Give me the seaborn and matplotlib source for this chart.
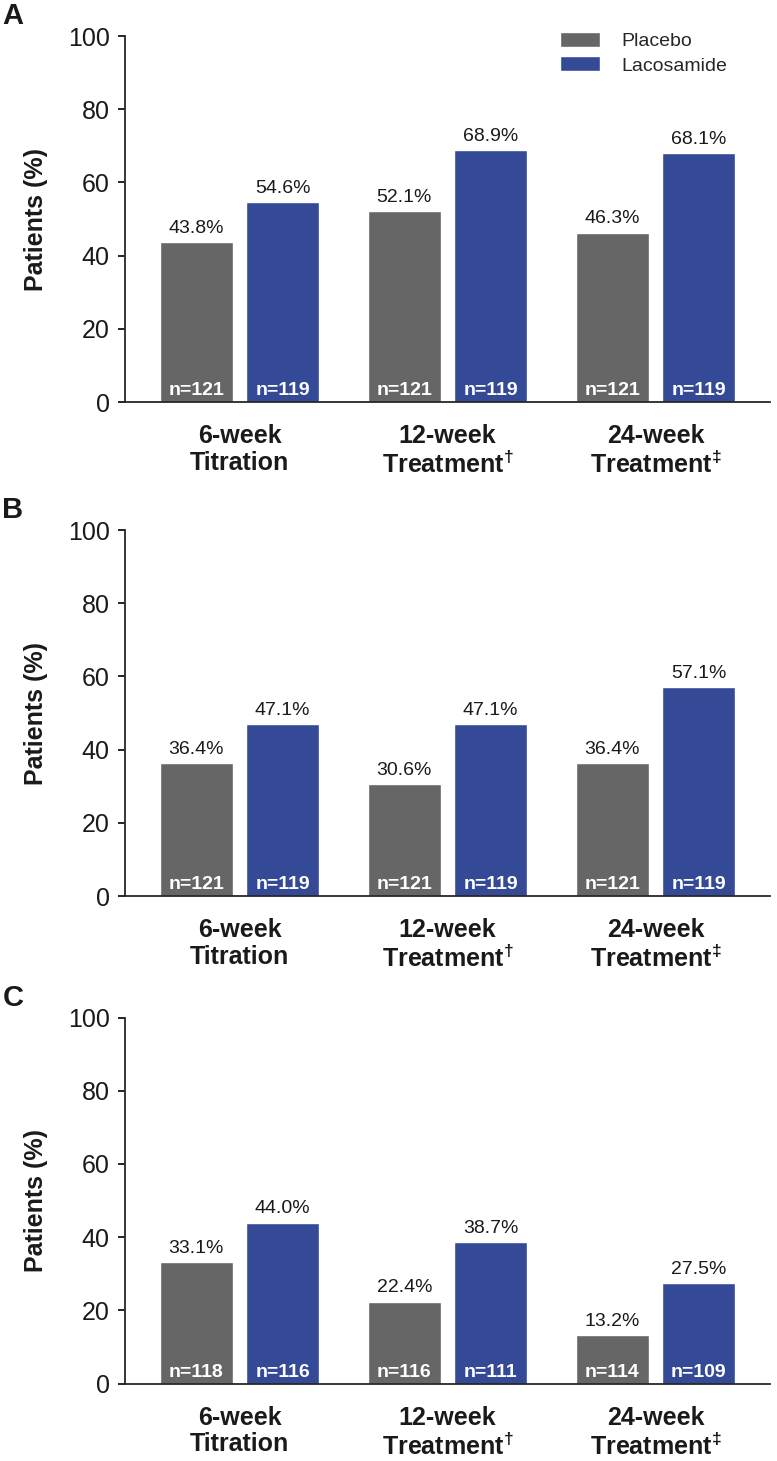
import pandas as pd
import matplotlib.pyplot as plt
import seaborn as sns

# data
periods = ['6-week\nTitration', '12-week\nTreatment$^{†}$', '24-week\nTreatment$^{‡}$']
groups = ['Placebo', 'Lacosamide']
panels = ['A', 'B', 'C']

placebo_pct = [[43.8, 52.1, 46.3], [36.4, 30.6, 36.4], [33.1, 22.4, 13.2]]
lacosamide_pct = [[54.6, 68.9, 68.1], [47.1, 47.1, 57.1], [44.0, 38.7, 27.5]]
placebo_n = [[121, 121, 121], [121, 121, 121], [118, 116, 114]]
lacosamide_n = [[119, 119, 119], [119, 119, 119], [116, 111, 109]]

colors = {'Placebo': '#666666', 'Lacosamide': '#344A97'}

sns.set_style('ticks')
plt.rcParams['font.family'] = ['Liberation Sans', 'DejaVu Sans']
plt.rcParams['mathtext.fontset'] = 'custom'
plt.rcParams['mathtext.rm'] = 'Liberation Sans'
plt.rcParams['mathtext.bf'] = 'Liberation Sans:bold'
plt.rcParams['mathtext.it'] = 'Liberation Sans:italic'
plt.rcParams['mathtext.default'] = 'bf'

fig = plt.figure(figsize=(7.77, 14.61), dpi=100)
bottoms = [0.7248, 0.3867, 0.0530]
height = 0.2505

for i, p in enumerate(panels):
    rows = []
    for j, per in enumerate(periods):
        rows.append({'period': per, 'group': 'Placebo', 'pct': placebo_pct[i][j], 'n': placebo_n[i][j]})
        rows.append({'period': per, 'group': 'Lacosamide', 'pct': lacosamide_pct[i][j], 'n': lacosamide_n[i][j]})
    df = pd.DataFrame(rows)

    ax = fig.add_axes([0.161, bottoms[i], 0.83, height])
    sns.barplot(data=df, x='period', y='pct', hue='group', hue_order=groups, order=periods,
                palette=colors, width=0.83, gap=0.16, saturation=1, ax=ax, legend=(i == 0))

    # percent above bars, n inside at the bottom
    for g, cont in zip(groups, ax.containers):
        sub = df[df['group'] == g]
        for bar, val, n in zip(cont, sub['pct'], sub['n']):
            cx = bar.get_x() + bar.get_width() / 2
            ax.text(cx, val + 1.4, f'{val:.1f}%', ha='center', va='bottom', fontsize=14, color='#1a1a1a')
            ax.text(cx, 1.9, f'n={n}', ha='center', va='baseline', fontsize=14,
                    fontweight='bold', color='white')

    ax.set_ylim(0, 100)
    ax.set_xlim(-0.55, 2.55)
    ax.set_yticks([0, 20, 40, 60, 80, 100])
    ax.tick_params(axis='y', labelsize=18, length=5, width=1.2, pad=6, color='black', labelcolor='#1a1a1a')
    ax.tick_params(axis='x', length=0, pad=16)
    for lab in ax.get_xticklabels():
        lab.set_fontsize(18)
        lab.set_fontweight('bold')
        lab.set_color('#1a1a1a')
        lab.set_linespacing(1.12)
    ax.set_xlabel('')
    ax.set_ylabel('Patients (%)', fontsize=18, fontweight='bold', labelpad=14, color='#1a1a1a')
    sns.despine(ax=ax)
    ax.spines['left'].set_linewidth(1.3)
    ax.spines['bottom'].set_linewidth(1.3)

    fig.text(0.003, bottoms[i] + height + 0.0137, p, fontsize=21, fontweight='bold', va='center', color='#1a1a1a')

    if i == 0:
        ax.legend(loc='upper left', bbox_to_anchor=(0.674, 1.012), frameon=False, fontsize=14,
                  handlelength=2.06, handleheight=0.82, handletextpad=1.13, labelspacing=0.32,
                  borderpad=0, borderaxespad=0)

plt.savefig('out.png', dpi=100)
